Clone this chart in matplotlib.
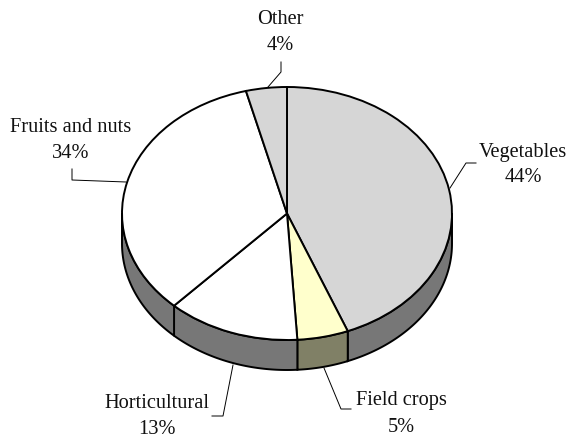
"""Tilted pie of crop shares with a drawn side wall."""

import numpy as np
import matplotlib

matplotlib.use("Agg")
import matplotlib.pyplot as plt

categories = ["Vegetables", "Field crops", "Horticultural", "Fruits and nuts", "Other"]
shares = [44, 5, 13, 34, 4]
top_colors = ["#D6D6D6", "#FFFFCC", "#FFFFFF", "#FFFFFF", "#D6D6D6"]
wall_colors = ["#777777", "#808066", "#777777", "#777777", "#777777"]

# label centre in pixels, leader line in pixels
label_pos = [(523, 165), (401, 414), (157, 417), (71, 141), (280, 33)]
leaders = [
    [(450, 188), (466, 163), (476, 163)],
    [(324, 368), (341, 409), (351, 409)],
    [(233, 365), (223, 416), (212, 416)],
    [(126, 182), (72, 180), (72, 169)],
    [(268, 87), (281, 72), (281, 62)],
]

W, H = 569, 438
CX, CY, RX, RY = 287, 213.5, 165, 126.5
DEPTH = 30 / RY
LW = 1.4

plt.rcParams["font.family"] = ["Liberation Serif", "DejaVu Serif"]

fig = plt.figure(figsize=(W / 100, H / 100), dpi=100)
ax = fig.add_axes([0, 0, 1, 1])


def px(x, y):
    return (x - CX) / RX, (CY - y) / RY


# side wall first, only the part of each wedge facing the viewer
edges = np.concatenate([[0], np.cumsum(shares)]) / sum(shares) * 2 * np.pi
for start, end, color in zip(edges[:-1], edges[1:], wall_colors):
    # angles clockwise from 12 o'clock; the front is between 90 and 270 degrees
    lo, hi = max(start, np.pi / 2), min(end, 3 * np.pi / 2)
    if lo >= hi:
        continue
    t = np.linspace(lo, hi, 80)
    xs, ys = np.sin(t), np.cos(t)
    ax.fill(
        np.concatenate([xs, xs[::-1]]),
        np.concatenate([ys, ys[::-1] - DEPTH]),
        facecolor=color,
        edgecolor="black",
        linewidth=LW,
        zorder=1,
    )

ax.pie(
    shares,
    colors=top_colors,
    startangle=90,
    counterclock=False,
    radius=1,
    wedgeprops={"edgecolor": "black", "linewidth": LW, "zorder": 2},
)

for name, share, (lx, ly) in zip(categories, shares, label_pos):
    x, y = px(lx, ly)
    ax.text(x, y, f"{name}\n{share}%", ha="center", va="center", fontsize=14.7,
            linespacing=1.5, color="#111111", zorder=5)

for line in leaders:
    pts = [px(*p) for p in line]
    ax.plot([p[0] for p in pts], [p[1] for p in pts], color="black", linewidth=0.7, zorder=4)

# the pie resets limits and aspect, so put the pixel frame back afterwards
ax.set_aspect("auto")
ax.set_xlim(px(0, 0)[0], px(W, 0)[0])
ax.set_ylim(px(0, H)[1], px(0, 0)[1])
ax.axis("off")

fig.savefig("out.png", dpi=100)
